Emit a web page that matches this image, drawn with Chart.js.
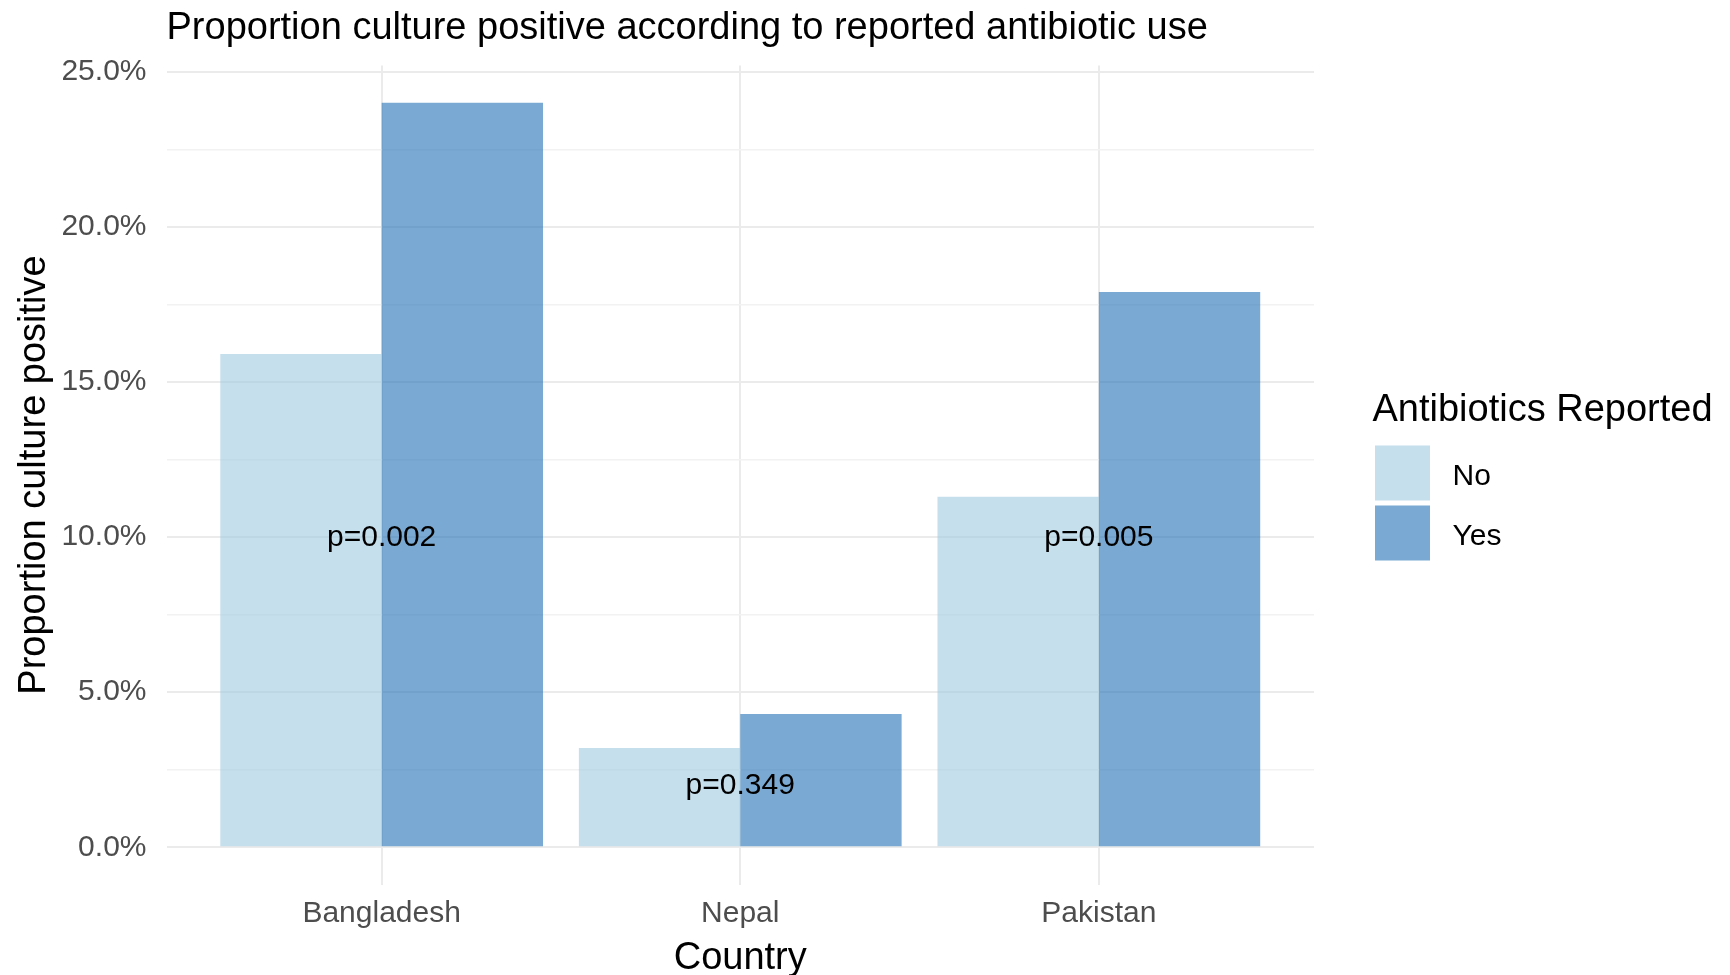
<!DOCTYPE html>
<html><head><meta charset="utf-8">
<script src="https://cdn.jsdelivr.net/npm/chart.js@4.4.1/dist/chart.umd.min.js"></script>
<style>html,body{margin:0;padding:0;background:#fff;overflow:hidden;}</style>
</head><body>
<canvas id="c" width="1730" height="975"></canvas>
<script>
const countries = ['Bangladesh', 'Nepal', 'Pakistan'];
const seriesNames = ['No', 'Yes'];
const noValues = [15.9, 3.2, 11.3];
const yesValues = [24.0, 4.3, 17.9];
const pValueLabels = ['p=0.002', 'p=0.349', 'p=0.005'];
const pValueY = [10, 2, 10];
const yTickValues = [0, 2.5, 5, 7.5, 10, 12.5, 15, 17.5, 20, 22.5, 25];

const FONT = '"Liberation Sans", Arial, Helvetica, sans-serif';
const colNo = 'rgba(158,202,225,0.6)';
const colYes = 'rgba(33,113,181,0.6)';

const overlay = {
  id: 'overlay',
  afterLayout(chart) {
    if (chart.titleBlock) {
      chart.titleBlock.left = chart.chartArea.left;
      chart.titleBlock.right = chart.width;
    }
  },
  afterDatasetsDraw(chart) {
    const ctx = chart.ctx;
    const xs = chart.scales.x, ys = chart.scales.y;
    ctx.save();
    ctx.fillStyle = '#000';
    ctx.font = '30px ' + FONT;
    ctx.textAlign = 'center';
    ctx.textBaseline = 'middle';
    pValueLabels.forEach((t, i) => {
      ctx.fillText(t, xs.getPixelForValue(i + 1), ys.getPixelForValue(pValueY[i]) + 1);
    });
    // legend
    ctx.textAlign = 'left';
    ctx.font = '38px ' + FONT;
    ctx.fillText('Antibiotics Reported', 1372.5, 410.5);
    ctx.font = '30px ' + FONT;
    const keyTop = [445.5, 505.5];
    chart.data.datasets.forEach((ds, i) => {
      ctx.fillStyle = ds.backgroundColor;
      ctx.fillRect(1375, keyTop[i], 55, 55);
      ctx.fillStyle = '#000';
      ctx.fillText(ds.label, 1452.5, keyTop[i] + 31);
    });
    ctx.restore();
  }
};

new Chart(document.getElementById('c'), {
  type: 'bar',
  data: {
    datasets: [
      { label: seriesNames[0], data: noValues.map((v, i) => ({ x: i + 1, y: v })), backgroundColor: colNo, borderWidth: 0 },
      { label: seriesNames[1], data: yesValues.map((v, i) => ({ x: i + 1, y: v })), backgroundColor: colYes, borderWidth: 0 }
    ]
  },
  options: {
    responsive: false,
    animation: false,
    devicePixelRatio: 1,
    layout: { padding: { left: 0, right: 416, top: 0, bottom: 0 } },
    datasets: { bar: { categoryPercentage: 0.9, barPercentage: 1.0 } },
    plugins: {
      legend: { display: false },
      tooltip: { enabled: false },
      title: {
        display: true,
        text: 'Proportion culture positive according to reported antibiotic use',
        align: 'start',
        color: '#000',
        font: { family: FONT, size: 38, weight: 'normal', lineHeight: 1.2 },
        padding: { top: 6, bottom: 13.9 }
      }
    },
    scales: {
      x: {
        type: 'linear',
        min: 0.4, max: 3.6,
        offset: false,
        afterBuildTicks(scale) { scale.ticks = countries.map((c, i) => ({ value: i + 1 })); },
        afterFit(scale) { scale.height = 90.5; },
        ticks: {
          color: '#4d4d4d',
          font: { family: FONT, size: 30, lineHeight: 1.2 },
          padding: 11.5,
          maxRotation: 0, autoSkip: false,
          callback(v) { return countries[Math.round(v) - 1]; }
        },
        grid: { color: '#ebebeb', lineWidth: 2, offset: false, drawTicks: false, tickLength: 0 },
        border: { display: false },
        title: {
          display: true, text: 'Country', color: '#000',
          font: { family: FONT, size: 38, lineHeight: 0.8 },
          padding: { top: 0, bottom: 1.2 }
        }
      },
      y: {
        type: 'linear',
        min: -1.2, max: 25.2,
        afterBuildTicks(scale) { scale.ticks = yTickValues.map(v => ({ value: v })); },
        afterFit(scale) { scale.width = 166.5; },
        ticks: {
          color: '#4d4d4d',
          font: { family: FONT, size: 30, lineHeight: 1.2 },
          padding: 20,
          callback(v) { return (v % 5 === 0) ? v.toFixed(1) + '%' : ''; }
        },
        grid: {
          color: (c) => (c.tick && c.tick.value % 5 === 0) ? '#ebebeb' : '#f2f2f2',
          lineWidth: (c) => (c.tick && c.tick.value % 5 === 0) ? 2 : 1.5,
          drawTicks: false, tickLength: 0
        },
        border: { display: false },
        title: {
          display: true, text: 'Proportion culture positive', color: '#000',
          font: { family: FONT, size: 38, lineHeight: 1 },
          padding: { top: 15.6, bottom: 0 }
        }
      }
    }
  },
  plugins: [overlay]
});
</script>
</body></html>
